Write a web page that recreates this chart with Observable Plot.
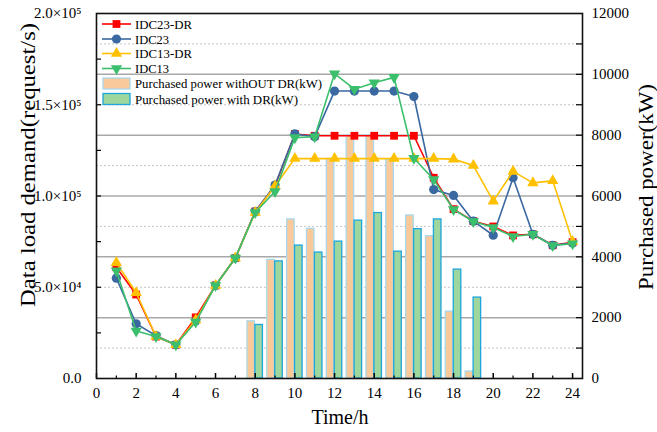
<!DOCTYPE html>
<html><head><meta charset="utf-8">
<script src="https://cdn.jsdelivr.net/npm/d3@7"></script>
<script src="https://cdn.jsdelivr.net/npm/@observablehq/plot@0.6"></script>
<style>body{margin:0;background:#fff}</style>
</head><body><div id="chart"></div>
<script>
// ---------- data ----------
const hours = [1,2,3,4,5,6,7,8,9,10,11,12,13,14,15,16,17,18,19,20,21,22,23,24];
const idc23DR = [61000,46000,23000,18500,33500,51000,66000,91500,105500,134000,133000,133000,133000,133000,133000,133000,110000,92800,86200,83300,78400,79000,73000,74700];
const idc23   = [55000,30000,23500,18500,31500,51000,66000,91500,106000,134000,132500,157500,157500,157500,157500,154500,103500,100300,86200,78500,110000,79000,73000,74200];
const idc13DR = [63500,47000,23000,18500,32000,51000,66000,91000,105500,120500,120500,120500,120500,120500,120500,120500,120500,120200,116700,97200,113500,107200,108300,75000];
const idc13   = [59000,26000,23000,18500,31000,51000,66000,91000,102500,132000,132500,167000,158500,162000,165000,120700,109000,92600,86000,82700,77800,79000,72900,73800];

const barHours = [8,9,10,11,12,13,14,15,16,17,18,19];
const powerNoDR = [1880,3900,5230,4920,7220,7990,7990,7180,5360,4680,2200,230];
const powerDR   = [1760,3850,4370,4140,4500,5190,5440,4170,4910,5230,3580,2660];

const xMajorTicks = [0,2,4,6,8,10,12,14,16,18,20,22,24];
const xMinorTicks = [1,3,5,7,9,11,13,15,17,19,21,23];
const leftTicks = [0,50000,100000,150000,200000];
const leftTickLabels = ["0.0","5.0×10⁴","1.0×10⁵","1.5×10⁵","2.0×10⁵"];
const leftTickMarks = [25000,50000,75000,100000,125000,150000,175000];
const rightTicks = [0,2000,4000,6000,8000,10000,12000];
const rightTickMarks = [1000,2000,3000,4000,5000,6000,7000,8000,9000,10000,11000];
const gridMajor = [2000,4000,6000,8000,10000];
const gridMinor = [1000,3000,5000,7000,9000,11000];

const titleLeft = "Data load demand(request/s)";
const titleRight = "Purchased power(kW)";
const titleBottom = "Time/h";
const barNames = ["Purchased power withOUT DR(kW)", "Purchased power with DR(kW)"];

// ---------- setup ----------
const K = 200000 / 12000; // right axis (kW) -> left axis units
const W = 657, H = 432, ML = 96, MR = 75, MT = 13, MB = 54;
const IW = W - ML - MR, IH = H - MT - MB;
const FONT = "'Liberation Serif','Times New Roman',serif";

const series = [
  {name:"IDC23-DR", values:idc23DR, color:"#FF0000", symbol:"square",   r:4.4, rotate:0,   len:57},
  {name:"IDC23",    values:idc23,   color:"#3A68A0", symbol:"circle",   r:4.6, rotate:0,   len:34},
  {name:"IDC13-DR", values:idc13DR, color:"#FFC000", symbol:"triangle", r:4.2, rotate:0,   len:57},
  {name:"IDC13",    values:idc13,   color:"#3CBF6C", symbol:"triangle", r:4.2, rotate:180, len:34}
];
const barNoColor = {fill:"#FAC99A", stroke:"#A9D8EC"};
const barDRColor = {fill:"#9DD79E", stroke:"#1DA6DC"};

const barNo = barHours.map((h,i)=>({h, p: powerNoDR[i]}));
const barDR = barHours.map((h,i)=>({h, p: powerDR[i]}));

const seriesMarks = series.flatMap(s => {
  const d = hours.map((h,i)=>({h, v:s.values[i]}));
  return [
    Plot.line(d, {x:"h", y:"v", stroke:s.color, strokeWidth:1.6}),
    Plot.dot(d, {x:"h", y:"v", symbol:s.symbol, r:s.r, fill:s.color, stroke:"none", rotate:s.rotate})
  ];
});

const svg = Plot.plot({
  width:W, height:H, marginLeft:ML, marginRight:MR, marginTop:MT, marginBottom:MB,
  x:{domain:[0,24.5], axis:null},
  y:{domain:[0,200000], axis:null},
  style:{fontFamily:FONT, fontSize:"15px", color:"#000", background:"#fff"},
  marks:[
    Plot.ruleY(gridMinor, {y:d=>d*K, stroke:"#C4C4C4", strokeWidth:1, strokeDasharray:"2,2"}),
    Plot.ruleY(gridMajor, {y:d=>d*K, stroke:"#A8A8A8", strokeWidth:1.5}),
    Plot.rectY(barNo, {x1:d=>d.h-0.39, x2:d=>d.h-0.01, y1:0, y2:d=>d.p*K, fill:barNoColor.fill, stroke:barNoColor.stroke, strokeWidth:1.3}),
    Plot.rectY(barDR, {x1:d=>d.h+0.01, x2:d=>d.h+0.39, y1:0, y2:d=>d.p*K, fill:barDRColor.fill, stroke:barDRColor.stroke, strokeWidth:1.3}),
    ...seriesMarks,
    // inward ticks
    Plot.ruleX(xMajorTicks, {x:d=>d, insetTop:IH-5, stroke:"#000", strokeWidth:1.5}),
    Plot.ruleX(xMinorTicks, {x:d=>d, insetTop:IH-2.5, stroke:"#000", strokeWidth:1.2}),
    Plot.ruleY(leftTickMarks, {y:d=>d, insetRight:IW-5, stroke:"#000", strokeWidth:1.2}),
    Plot.ruleY(rightTickMarks, {y:d=>d*K, insetLeft:IW-6, stroke:"#000", strokeWidth:1.2}),
    Plot.frame({stroke:"#111", strokeWidth:1.6}),
    // tick labels
    Plot.axisX({ticks:xMajorTicks, tickSize:0, tickPadding:9, label:null, fontSize:15}),
    Plot.axisY({ticks:leftTicks, tickFormat:d=>leftTickLabels[leftTicks.indexOf(d)], tickSize:0, tickPadding:15, label:null, fontSize:15}),
    Plot.axisY({anchor:"right", ticks:rightTicks.map(p=>p*K), tickFormat:d=>String(Math.round(d/K)), tickSize:0, tickPadding:9, label:null, fontSize:15})
  ]
});
document.getElementById("chart").appendChild(svg);

const root = d3.select(svg);
// ---------- axis titles ----------
const tg = root.append("g").attr("font-family", FONT).attr("fill", "#000").attr("text-anchor","middle");
tg.append("text").attr("transform","translate(28,165) rotate(-90)").attr("dy","0.35em")
  .attr("font-size",20).attr("textLength",284).attr("lengthAdjust","spacingAndGlyphs").text(titleLeft);
tg.append("text").attr("transform","translate(646,187) rotate(-90)").attr("dy","0.35em")
  .attr("font-size",20).attr("textLength",206).attr("lengthAdjust","spacingAndGlyphs").text(titleRight);
tg.append("text").attr("x",340).attr("y",417).attr("dy","0.35em")
  .attr("font-size",20).attr("textLength",57).attr("lengthAdjust","spacingAndGlyphs").text(titleBottom);

// ---------- legend ----------
const lg = root.append("g").attr("font-family", FONT).attr("font-size", 13.5).attr("fill", "#000").attr("text-anchor","start");
const rowY = [24, 39, 53.5, 68.5, 83.5, 99];
const symArea = r => Math.PI*r*r;
const symMap = {square:d3.symbolSquare, circle:d3.symbolCircle, triangle:d3.symbolTriangle};
series.forEach((s,i)=>{
  const y = rowY[i];
  lg.append("line").attr("x1",102).attr("x2",131).attr("y1",y).attr("y2",y).attr("stroke",s.color).attr("stroke-width",1.6);
  lg.append("path").attr("d", d3.symbol(symMap[s.symbol], symArea(s.r))()).attr("fill", s.color)
    .attr("transform", `translate(116.5,${y}) rotate(${s.rotate})`);
  lg.append("text").attr("x",135).attr("y",y).attr("dy","0.35em")
    .attr("textLength",s.len).attr("lengthAdjust","spacingAndGlyphs").text(s.name);
});
[[barNames[0], barNoColor, 187],[barNames[1], barDRColor, 163]].forEach(([t,c,len],j)=>{
  const y = rowY[4+j];
  lg.append("rect").attr("x",103).attr("y",y-5.5).attr("width",27).attr("height",11)
    .attr("fill",c.fill).attr("stroke",c.stroke).attr("stroke-width",1.3);
  lg.append("text").attr("x",135).attr("y",y).attr("dy","0.35em")
    .attr("textLength",len).attr("lengthAdjust","spacingAndGlyphs").text(t);
});
</script>
</body></html>
